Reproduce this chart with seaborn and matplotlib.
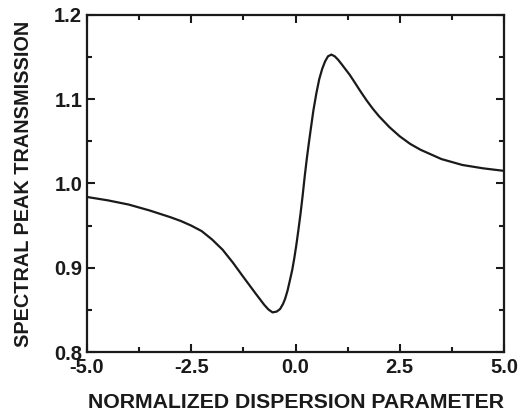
import matplotlib
matplotlib.use("Agg")
import matplotlib.pyplot as plt
import seaborn as sns
import pandas as pd
from matplotlib.ticker import MultipleLocator, FormatStrFormatter

sns.set_theme(style="ticks")
plt.rcParams['font.family'] = ['Liberation Sans', 'DejaVu Sans']
plt.rcParams['font.weight'] = 'bold'

x_vals = [-5.0, -4.5, -4.0, -3.5, -3.0, -2.75, -2.5, -2.25, -2.0, -1.75, -1.5, -1.25,
          -1.1, -0.95, -0.85, -0.75, -0.65, -0.55, -0.45, -0.37, -0.3, -0.25, -0.19,
          -0.13, -0.08, -0.03, 0.02, 0.07, 0.12, 0.17, 0.22, 0.27, 0.32, 0.37, 0.43,
          0.5, 0.57, 0.64, 0.71, 0.78, 0.86, 0.94, 1.02, 1.1, 1.2, 1.3, 1.4, 1.55,
          1.7, 1.85, 2.0, 2.25, 2.5, 2.75, 3.0, 3.5, 4.0, 4.5, 5.0]
y_vals = [0.984, 0.980, 0.975, 0.968, 0.960, 0.9555, 0.950, 0.9435, 0.9335, 0.9215, 0.906, 0.889,
          0.879, 0.869, 0.8625, 0.856, 0.8505, 0.847, 0.848, 0.851, 0.857, 0.863, 0.873,
          0.886, 0.897, 0.911, 0.927, 0.945, 0.964, 0.985, 1.008, 1.029, 1.048, 1.066, 1.087,
          1.107, 1.124, 1.136, 1.145, 1.151, 1.153, 1.151, 1.147, 1.142, 1.1355, 1.129, 1.1215, 1.110,
          1.099, 1.089, 1.080, 1.067, 1.056, 1.047, 1.040, 1.029, 1.022, 1.018, 1.015]

df = pd.DataFrame({"x": x_vals, "y": y_vals})

fig = plt.figure(figsize=(5.28, 4.17), dpi=100)
ax = fig.add_axes([87/528, 1 - 352/417, 417/528, 337/417])
sns.lineplot(data=df, x="x", y="y", ax=ax, color="#1a1a1a", linewidth=1.6)

ax.set_xlim(-5, 5)
ax.set_ylim(0.8, 1.2)
ax.xaxis.set_major_locator(MultipleLocator(2.5))
ax.xaxis.set_minor_locator(MultipleLocator(1.25))
ax.yaxis.set_major_locator(MultipleLocator(0.1))
ax.yaxis.set_minor_locator(MultipleLocator(0.05))
ax.xaxis.set_major_formatter(FormatStrFormatter('%.1f'))
ax.yaxis.set_major_formatter(FormatStrFormatter('%.1f'))

ax.tick_params(which='both', direction='in', top=True, right=True, width=1.5, color='#1a1a1a')
ax.tick_params(which='major', length=6, labelsize=14.5)
ax.tick_params(axis='x', which='major', pad=4.5)
ax.tick_params(axis='y', which='major', pad=3.5)
ax.tick_params(which='minor', length=3.5)
for s in ax.spines.values():
    s.set_linewidth(1.6)
    s.set_color('#1a1a1a')

ax.set_xlabel("NORMALIZED DISPERSION PARAMETER", fontsize=15.3, fontweight='bold')
ax.set_ylabel("SPECTRAL PEAK TRANSMISSION", fontsize=14.3, fontweight='bold')
ax.xaxis.label.set_va('center')
ax.yaxis.label.set_va('center')
ax.xaxis.set_label_coords(0.5, -50 / 337)
ax.yaxis.set_label_coords((23.5 - 87) / 417, 0.5)
for lab in ax.get_xticklabels() + ax.get_yticklabels():
    lab.set_fontweight('bold')
    lab.set_color('#1a1a1a')
ax.xaxis.label.set_color('#1a1a1a')
ax.yaxis.label.set_color('#1a1a1a')

fig.savefig("out.png", dpi=100)
